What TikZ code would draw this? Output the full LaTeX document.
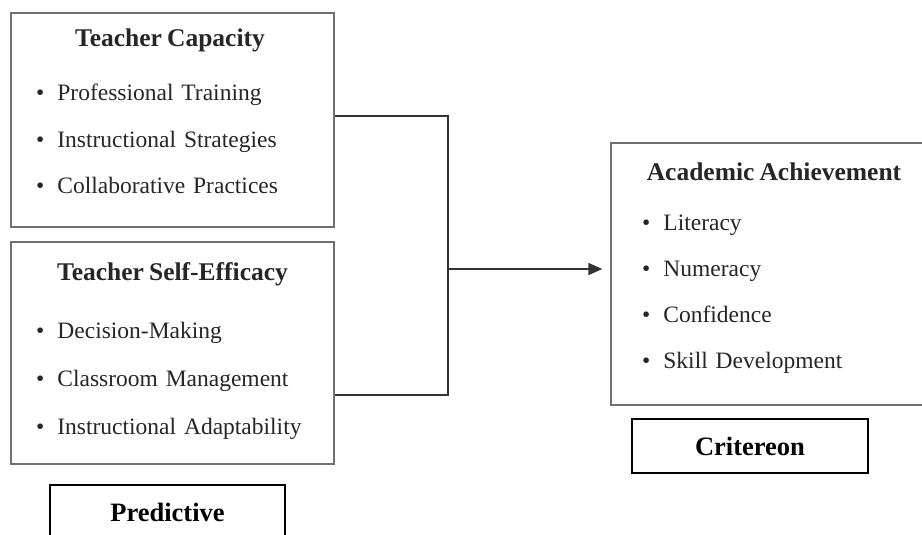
\documentclass[tikz,border=0pt]{standalone}
\usepackage{fontspec}
\setmainfont[WordSpace=0.8]{Liberation Serif}
\usetikzlibrary{positioning,arrows.meta}

\definecolor{boxgray}{HTML}{707070}
\definecolor{inkgray}{HTML}{262626}
\definecolor{linkgray}{HTML}{333333}

\newcommand{\bul}{\textbullet\hspace{13pt}}

\begin{document}
\begin{tikzpicture}[x=1pt,y=-1pt,>={Triangle[length=14pt,width=12pt]},node distance=46pt,
  panel/.style={rectangle,draw=boxgray,line width=1.3pt,inner sep=0pt},
  tag node/.style={rectangle,draw=black,line width=1.4pt,minimum width=236pt,minimum height=54pt,font=\fontsize{26.5}{30}\selectfont\bfseries},
  head node/.style={anchor=base,text=inkgray,inner sep=0pt,font=\fontsize{25.5}{30}\selectfont\bfseries},
  item node/.style={anchor=west,text=inkgray,inner sep=0pt,text width=280pt,align=left,text height=16pt,text depth=5pt,font=\fontsize{23.5}{28}\selectfont},
  link/.style={draw=linkgray,line width=1.3pt}]
    \useasboundingbox (0,0) rectangle (922,535);

    % the two predictor panels
    \node[panel,minimum width=323pt,minimum height=214pt] (tc) at (172.5,120) {};
    \node[head node] (tchead) at (170,47) {Teacher Capacity};
    \node[item node] (ptrain) at (36,95.5) {\bul Professional Training};
    \node[item node] (istrat) [below of=ptrain] {\bul Instructional Strategies};
    \node[item node] (cprac) [below of=istrat] {\bul Collaborative Practices};

    \node[panel,minimum width=323pt,minimum height=222pt] (tse) at (172.5,353) {};
    \node[head node] (tsehead) at (172.5,280) {Teacher Self-Efficacy};
    \node[item node] (dmake) at (36,332.5) {\bul Decision-Making};
    \node[item node] (cmanage) [node distance=48pt,below of=dmake] {\bul Classroom Management};
    \node[item node] (iadapt) [node distance=48pt,below of=cmanage] {\bul Instructional Adaptability};

    % outcome panel
    \node[panel,minimum width=315pt,minimum height=262pt] (aa) at (768.5,274) {};
    \node[head node] (aahead) at (774,180) {Academic Achievement};
    \node[item node] (lit) at (642,224.5) {\bul Literacy};
    \node[item node] (num) [below of=lit] {\bul Numeracy};
    \node[item node] (conf) [below of=num] {\bul Confidence};
    \node[item node] (skill) [below of=conf] {\bul Skill Development};

    % labels under the panels
    \node[tag node,minimum width=235pt] (pred) at (167.5,512) {Predictive};
    \node[tag node] (crit) at (750,446) {Critereon};

    \coordinate (jtop) at (448,116);
    \coordinate (jbot) at (448,395);
    \coordinate (jmid) at (448,269);

    \draw[link] (tc.east |- jtop) -- (jtop) -- (jbot) -- (tse.east |- jbot);
    \draw[link,->,shorten >=8pt] (jmid) -- (aa.west |- jmid);

\end{tikzpicture}
\end{document}
